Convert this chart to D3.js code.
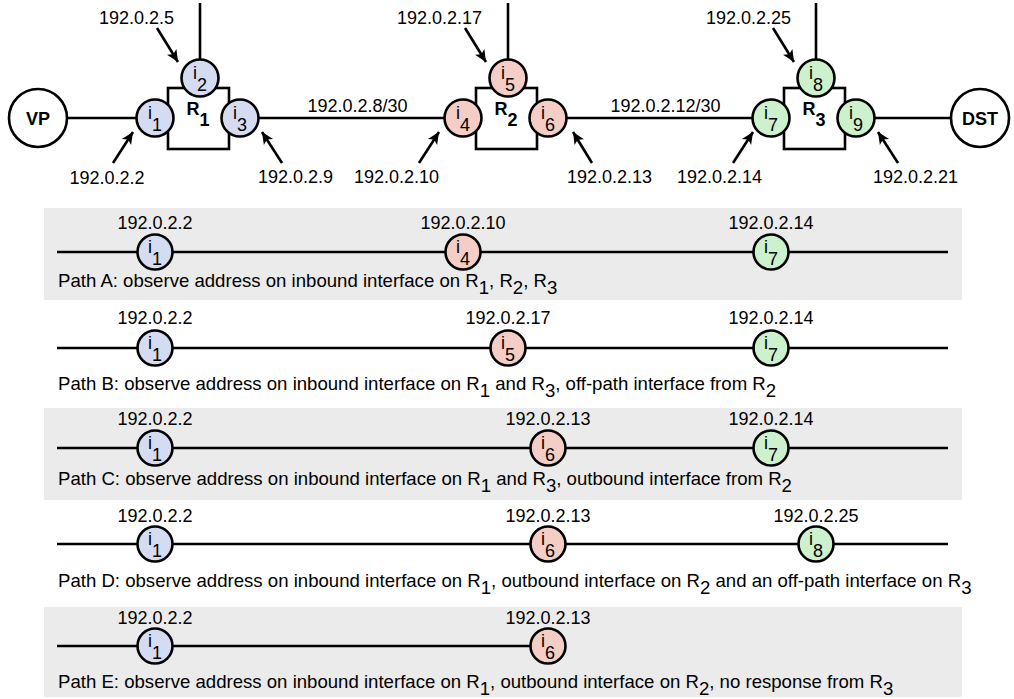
<!DOCTYPE html>
<html><head><meta charset="utf-8">
<script src="https://cdn.jsdelivr.net/npm/d3@7"></script>
<style>
html,body{margin:0;padding:0;background:#fff;}
svg{display:block;font-family:"Liberation Sans",Arial,Helvetica,sans-serif;}
</style></head>
<body>
<svg id="chart" width="1014" height="699"></svg>
<script>
// ---------- data ----------
const routers = ["R1", "R2", "R3"];
const routerFill = ["#d5dbf1", "#f3cdc6", "#cdf0cd"];
// interface id, router index, role
const interfaces = [
  {id: 1, router: 0, role: "in",  addr: "192.0.2.2"},
  {id: 2, router: 0, role: "top", addr: "192.0.2.5"},
  {id: 3, router: 0, role: "out", addr: "192.0.2.9"},
  {id: 4, router: 1, role: "in",  addr: "192.0.2.10"},
  {id: 5, router: 1, role: "top", addr: "192.0.2.17"},
  {id: 6, router: 1, role: "out", addr: "192.0.2.13"},
  {id: 7, router: 2, role: "in",  addr: "192.0.2.14"},
  {id: 8, router: 2, role: "top", addr: "192.0.2.25"},
  {id: 9, router: 2, role: "out", addr: "192.0.2.21"}
];
const subnets = [
  {from: 3, to: 4, label: "192.0.2.8/30"},
  {from: 6, to: 7, label: "192.0.2.12/30"}
];
const pathNames = ["A", "B", "C", "D", "E"];
const pathHops = [
  [1, 4, 7],
  [1, 5, 7],
  [1, 6, 7],
  [1, 6, 8],
  [1, 6]
];
const pathCaptions = [
  "Path A: observe address on inbound interface on R_1, R_2, R_3",
  "Path B: observe address on inbound interface on R_1 and R_3, off-path interface from R_2",
  "Path C: observe address on inbound interface on R_1 and R_3, outbound interface from R_2",
  "Path D: observe address on inbound interface on R_1, outbound interface on R_2 and an off-path interface on R_3",
  "Path E: observe address on inbound interface on R_1, outbound interface on R_2, no response from R_3"
];
const pathComplete = [true, true, true, true, false];

// ---------- layout ----------
const FS = 18, FSC = 18.6;
const svg = d3.select("#chart");
const xRouter = d3.scaleLinear().domain([0, 2]).range([199, 815]);
const yMain = 118, yTop = 78;
const roleDx = {in: -44, top: 1, out: 41};
const rIf = 18.5, rPanel = 17.5;
const ifX = d => xRouter(d.router) + roleDx[d.role];
const ifY = d => d.role === "top" ? yTop : yMain;
const byId = {};
interfaces.forEach(d => byId[d.id] = d);
const SW = 2.6;

// arrow marker
svg.append("defs").append("marker")
  .attr("id", "arr").attr("markerUnits", "userSpaceOnUse")
  .attr("viewBox", "-13 -6 14 12").attr("refX", 0).attr("refY", 0)
  .attr("markerWidth", 14).attr("markerHeight", 12).attr("orient", "auto")
  .append("path").attr("d", "M0,0 L-12,-5.5 L-9,0 L-12,5.5 Z").attr("fill", "#000");

// ---------- top diagram ----------
const gTop = svg.append("g");
const vp = {x: 38, y: yMain, r: 29}, dst = {x: 980, y: yMain, r: 29};
const line = (x1, y1, x2, y2) => gTop.append("line").attr("x1", x1).attr("y1", y1)
  .attr("x2", x2).attr("y2", y2).attr("stroke", "#000").attr("stroke-width", SW);
line(vp.x, yMain, ifX(byId[1]), yMain);
subnets.forEach(s => line(ifX(byId[s.from]), yMain, ifX(byId[s.to]), yMain));
line(ifX(byId[9]), yMain, dst.x, yMain);
interfaces.filter(d => d.role === "top").forEach(d => line(ifX(d), 3, ifX(d), yTop));

// router boxes
gTop.selectAll("rect.router").data(routers).join("rect")
  .attr("x", (d, i) => xRouter(i) - 31).attr("y", 88)
  .attr("width", 61).attr("height", 61)
  .attr("fill", "#fff").attr("stroke", "#000").attr("stroke-width", SW);
const rl = gTop.selectAll("text.rl").data(routers).join("text")
  .attr("x", (d, i) => xRouter(i) - 1).attr("y", 115)
  .attr("text-anchor", "middle").attr("font-weight", "bold").attr("font-size", FS);
rl.append("tspan").text(d => d[0]);
rl.append("tspan").attr("dy", 11).text(d => d.slice(1));

// VP / DST
[[vp, "VP"], [dst, "DST"]].forEach(([n, t]) => {
  gTop.append("circle").attr("cx", n.x).attr("cy", n.y).attr("r", n.r)
    .attr("fill", "#fff").attr("stroke", "#000").attr("stroke-width", SW);
  gTop.append("text").attr("x", n.x).attr("y", n.y + 6.5).attr("text-anchor", "middle")
    .attr("font-weight", "bold").attr("font-size", FS).text(t);
});

function ifaceLabel(sel, cx, cy, id, fs) {
  const t = sel.append("text").attr("x", cx).attr("y", cy + 0.5)
    .attr("text-anchor", "middle").attr("font-size", fs);
  t.append("tspan").text("i");
  t.append("tspan").attr("dy", 12).text(id);
}
function ifaceCircle(sel, d, cx, cy, r) {
  sel.append("circle").attr("cx", cx).attr("cy", cy).attr("r", r)
    .attr("fill", routerFill[d.router]).attr("stroke", "#000").attr("stroke-width", SW);
  ifaceLabel(sel, cx, cy, d.id, FS);
}
interfaces.forEach(d => ifaceCircle(gTop, d, ifX(d), ifY(d), rIf));

// subnet labels
subnets.forEach(s => {
  const x1 = ifX(byId[s.from]), x2 = ifX(byId[s.to]);
  gTop.append("text").attr("x", (x1 + x2) / 2 + 6).attr("y", 112)
    .attr("text-anchor", "middle").attr("font-size", FS).text(s.label);
});

// address annotations (arrow geometry relative to interface)
const annot = {
  1: {tx: -48, ty: 184, anchor: "middle", a: [-42, 45, -22, 14]},
  2: {tx: -26, ty: 24, anchor: "end", a: [-43, -50, -22, -16]},
  3: {tx: 18, ty: 183, anchor: "start", a: [42, 45, 22, 14]},
  4: {tx: -24, ty: 183, anchor: "end", a: [-44, 45, -24, 14]},
  5: {tx: -26, ty: 24, anchor: "end", a: [-43, -50, -22, -16]},
  6: {tx: 19, ty: 183, anchor: "start", a: [44, 45, 25, 14]},
  7: {tx: -9, ty: 183, anchor: "end", a: [-38, 45, -18, 14]},
  8: {tx: -25, ty: 24, anchor: "end", a: [-43, -50, -22, -16]},
  9: {tx: 17, ty: 183, anchor: "start", a: [42, 45, 22, 14]}
};
interfaces.forEach(d => {
  const o = annot[d.id], cx = ifX(d), cy = ifY(d);
  gTop.append("text").attr("x", cx + o.tx).attr("y", o.ty)
    .attr("text-anchor", o.anchor).attr("font-size", FS).text(d.addr);
  gTop.append("line").attr("x1", cx + o.a[0]).attr("y1", cy + o.a[1])
    .attr("x2", cx + o.a[2]).attr("y2", cy + o.a[3])
    .attr("stroke", "#000").attr("stroke-width", SW).attr("marker-end", "url(#arr)");
});

// ---------- path panels ----------
const rowLineY = [252, 348, 448, 544, 646];
const rowLabelY = [229, 324, 425, 522, 624];
const rowCaptionY = [287, 390, 485, 587, 688];
const rowBg = [[208, 300], null, [408, 500], null, [607, 697]];
const lineX0 = 57, lineX1 = 948;
const SUB = 7;

function caption(sel, x, y, str) {
  const t = sel.append("text").attr("x", x).attr("y", y).attr("font-size", FSC);
  const parts = str.split(/(R_\d)/).filter(p => p.length);
  let pending = 0;
  parts.forEach(p => {
    if (/^R_\d$/.test(p)) {
      t.append("tspan").attr("dy", pending).text("R");
      t.append("tspan").attr("dy", SUB).text(p[2]);
      pending = -SUB;
    } else {
      t.append("tspan").attr("dy", pending).text(p);
      pending = 0;
    }
  });
}

pathNames.forEach((name, i) => {
  const g = svg.append("g");
  const ly = rowLineY[i];
  if (rowBg[i]) {
    g.append("rect").attr("x", 44).attr("y", rowBg[i][0]).attr("width", 918)
      .attr("height", rowBg[i][1] - rowBg[i][0]).attr("fill", "#ebebeb");
  }
  const hops = pathHops[i].map(id => byId[id]);
  const endX = pathComplete[i] ? lineX1 : ifX(hops[hops.length - 1]);
  g.append("line").attr("x1", lineX0).attr("y1", ly).attr("x2", endX).attr("y2", ly)
    .attr("stroke", "#000").attr("stroke-width", SW);
  hops.forEach(d => {
    const cx = ifX(d);
    g.append("circle").attr("cx", cx).attr("cy", ly).attr("r", rPanel)
      .attr("fill", routerFill[d.router]).attr("stroke", "#000").attr("stroke-width", SW);
    ifaceLabel(g, cx, ly, d.id, FS);
    g.append("text").attr("x", cx).attr("y", rowLabelY[i]).attr("text-anchor", "middle")
      .attr("font-size", FS).text(d.addr);
  });
  caption(g, 58, rowCaptionY[i], pathCaptions[i]);
});
</script>
</body></html>
